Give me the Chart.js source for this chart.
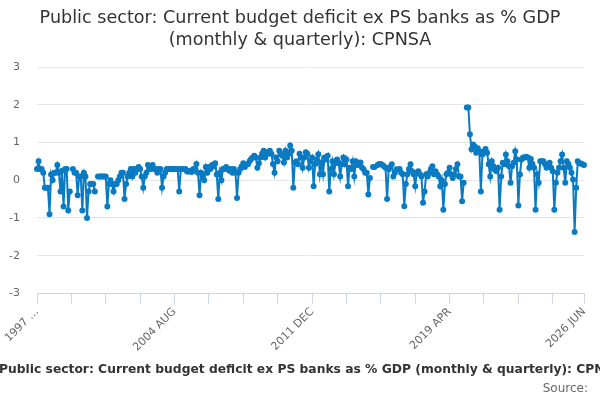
<!DOCTYPE html>
<html>
<head>
<meta charset="utf-8">
<script src="https://cdn.jsdelivr.net/npm/chart.js@4.4.1/dist/chart.umd.min.js"></script>
<style>
  html, body { margin: 0; padding: 0; background: #ffffff; }
  #wrap { width: 600px; height: 400px; position: relative; }
</style>
</head>
<body>
<div id="wrap"><canvas id="chart"></canvas></div>
<script>
// 期間: 1997 APR から 2026 JUN までの月次
const monthNames = ["JAN", "FEB", "MAR", "APR", "MAY", "JUN", "JUL", "AUG", "SEP", "OCT", "NOV", "DEC"];
const firstYear = 1997;
const firstMonth = 3; // APR

// 系列の値（年度ごと APR〜MAR、null は欠測）
const values = [
    0.3, 0.5, 0.3, 0.3, 0.2, -0.2, -0.2, -0.2, -0.9, 0.15, 0.0, 0.2,
    0.2, 0.4, 0.2, -0.3, 0.25, -0.7, 0.3, 0.3, -0.8, -0.3, null, 0.3,
    0.2, 0.2, -0.4, 0.1, 0.1, -0.8, 0.2, 0.1, -1.0, -0.3, -0.1, -0.1,
    -0.1, -0.3, null, 0.1, 0.1, 0.1, 0.1, 0.1, 0.1, -0.7, -0.1, 0.0,
    -0.1, -0.3, -0.1, -0.1, 0.0, 0.1, 0.2, 0.2, -0.5, -0.1, 0.1, 0.2,
    0.3, 0.1, 0.3, 0.2, 0.3, 0.35, 0.3, 0.1, -0.2, 0.1, 0.2, 0.4,
    0.3, 0.3, 0.4, 0.3, 0.3, 0.2, 0.3, 0.3, -0.2, 0.1, 0.2, 0.3,
    0.3, 0.3, 0.3, 0.3, 0.3, 0.3, 0.3, -0.3, 0.3, 0.3, null, 0.3,
    0.23, 0.23, 0.25, 0.22, 0.3, 0.25, 0.43, 0.2, -0.4, 0.2, 0.1, 0.0,
    0.35, 0.2, 0.35, 0.3, 0.4, 0.37, 0.45, 0.15, -0.5, 0.2, 0.0, 0.3,
    0.3, 0.35, 0.3, 0.25, 0.3, 0.2, 0.3, 0.2, -0.47, 0.2, 0.3, 0.37,
    0.45, 0.35, null, 0.42, 0.5, 0.56, 0.6, 0.65, 0.6, 0.33, 0.45, 0.6,
    0.7, 0.78, 0.6, 0.74, 0.7, 0.78, 0.7, 0.43, 0.2, 0.6, 0.5, 0.78,
    0.7, 0.65, 0.47, 0.78, 0.6, 0.7, 0.92, 0.78, -0.2, 0.47, 0.5, 0.42,
    0.7, 0.6, 0.33, 0.6, 0.74, 0.7, 0.33, 0.5, 0.6, -0.16, 0.43, 0.55,
    0.69, 0.16, 0.47, 0.16, 0.6, 0.55, 0.65, -0.3, 0.3, 0.5, 0.16, 0.45,
    0.55, 0.47, 0.1, 0.42, 0.6, 0.42, 0.55, -0.16, 0.33, 0.3, 0.5, 0.1,
    0.5, 0.4, 0.42, 0.47, 0.33, 0.29, 0.2, 0.2, -0.38, 0.06, null, 0.35,
    0.35, null, 0.4, 0.43, 0.43, 0.4, 0.37, 0.33, -0.5, 0.29, 0.35, 0.42,
    0.1, 0.2, 0.29, null, 0.3, 0.2, 0.16, -0.69, -0.1, 0.16, 0.3, 0.42,
    0.24, 0.16, -0.16, 0.2, 0.24, 0.16, 0.1, -0.6, -0.3, 0.16, 0.1, 0.2,
    0.3, 0.37, 0.16, 0.24, 0.16, 0.1, -0.16, 0.0, -0.78, -0.1, 0.16, 0.2,
    0.33, 0.16, 0.06, 0.15, 0.3, 0.42, 0.1, 0.1, -0.56, -0.07, null, 1.93,
    1.93, 1.22, 0.82, 0.95, 0.9, 0.73, 0.85, 0.77, -0.3, 0.68, 0.77, 0.83,
    0.73, 0.42, 0.1, 0.5, 0.37, 0.28, 0.24, 0.33, -0.78, 0.1, 0.46, 0.42,
    0.68, 0.5, 0.37, -0.07, 0.37, 0.46, 0.77, 0.55, -0.67, 0.15, 0.55, 0.6,
    0.6, 0.62, 0.6, 0.33, 0.56, 0.43, 0.33, -0.78, 0.16, -0.07, 0.5, 0.5,
    0.5, 0.43, 0.33, 0.38, 0.46, 0.33, 0.24, -0.78, -0.07, 0.2, 0.33, 0.5,
    0.68, 0.33, -0.07, 0.5, 0.43, 0.33, 0.2, 0.02, -1.37, -0.2, 0.5, 0.45,
    0.44, 0.42, 0.4
];

// 目盛りラベル
const shownMonths = ["1997 APR", "2004 AUG", "2011 DEC", "2019 APR", "2026 JUN"];
const yTicks = [-3, -2, -1, 0, 1, 2, 3];
const minorStep = 22;

const titleLines = ["Public sector: Current budget deficit ex PS banks as % GDP", "(monthly & quarterly): CPNSA"];
const footerText = "Public sector: Current budget deficit ex PS banks as % GDP (monthly & quarterly): CPNSA";
const sourceText = "Source:";

// カテゴリ（月ラベル）を作る
const months = values.map(function (v, i) {
    const m = firstMonth + i;
    return (firstYear + Math.floor(m / 12)) + " " + monthNames[m % 12];
});

const fontFamily = "'DejaVu Sans', sans-serif";

// 下のキャプションと Source: を描くプラグイン（はみ出しはそのまま）
const footerPlugin = {
    id: "footerText",
    afterDraw: function (chart) {
        const ctx = chart.ctx;
        ctx.save();
        ctx.textBaseline = "middle";
        ctx.font = "bold 12.3px " + fontFamily;
        ctx.fillStyle = "#333333";
        ctx.textAlign = "left";
        ctx.fillText(footerText, -1, 370);
        ctx.font = "12px " + fontFamily;
        ctx.fillStyle = "#666666";
        ctx.textAlign = "right";
        ctx.fillText(sourceText, chart.width - 12, 389);
        ctx.restore();
    }
};

const ctx = document.getElementById("chart").getContext("2d");
new Chart(ctx, {
    type: "line",
    data: {
        labels: months,
        datasets: [{
            label: "CPNSA",
            data: values,
            borderColor: "#0a7bc2",
            backgroundColor: "#0a7bc2",
            borderWidth: 2,
            pointRadius: 2,
            pointHoverRadius: 3,
            tension: 0,
            spanGaps: false
        }]
    },
    options: {
        responsive: true,
        maintainAspectRatio: false,
        animation: false,
        layout: { padding: { right: 0, bottom: 44 } },
        plugins: {
            legend: { display: false },
            tooltip: { enabled: false },
            title: {
                display: true,
                text: titleLines,
                color: "#333333",
                font: { family: fontFamily, size: 17.6, weight: "normal", lineHeight: 1.28 },
                padding: { top: 7, bottom: 15 }
            }
        },
        scales: {
            x: {
                type: "category",
                grid: { drawOnChartArea: false, drawTicks: true, tickLength: 10, color: "#ccd6eb" },
                border: { color: "#ccd6eb" },
                ticks: {
                    autoSkip: false,
                    minRotation: 45,
                    maxRotation: 45,
                    color: "#666666",
                    font: { family: fontFamily, size: 11 },
                    padding: 2,
                    callback: function (val, index) {
                        const lab = months[index];
                        if (shownMonths.indexOf(lab) >= 0) {
                            return index === 0 ? lab.split(" ")[0] + " \u2026" : lab;
                        }
                        if (index % minorStep === 0) return "";
                        return null;
                    }
                }
            },
            y: {
                min: -3,
                max: 3,
                afterBuildTicks: function (scale) {
                    scale.ticks = yTicks.map(function (v) { return { value: v }; });
                },
                afterFit: function (scale) { scale.width = 37; },
                grid: { color: "#e6e6e6", drawTicks: false },
                border: { display: false },
                ticks: {
                    color: "#666666",
                    font: { family: fontFamily, size: 11 },
                    padding: 17
                }
            },
            // 右側の余白用（何も描かない）
            yRight: {
                position: "right",
                min: -3,
                max: 3,
                afterFit: function (scale) { scale.width = 16; },
                grid: { display: false },
                border: { display: false },
                ticks: { display: false }
            }
        }
    },
    plugins: [footerPlugin]
});
</script>
</body>
</html>
